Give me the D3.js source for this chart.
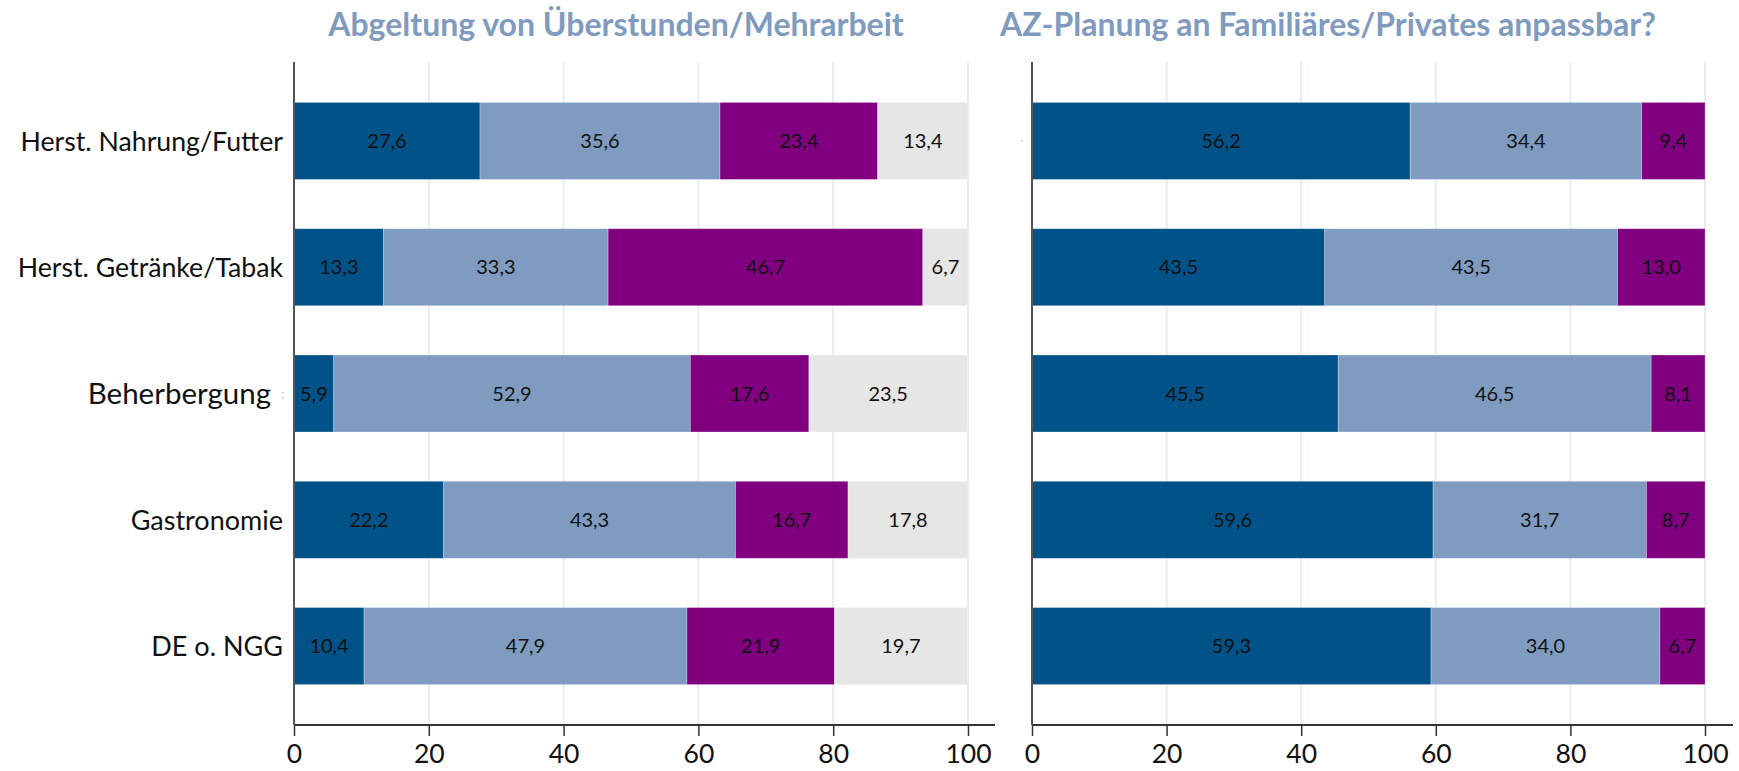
<!DOCTYPE html>
<html>
<head>
<meta charset="utf-8">
<script src="https://cdn.jsdelivr.net/npm/d3@7"></script>
<style>
  html, body { margin: 0; padding: 0; background: #fff; }
  svg { display: block; font-family: Lato, "Open Sans", sans-serif; }
</style>
</head>
<body>
<svg id="chart" width="1739" height="771"></svg>
<script>
// Branches / groups on the vertical axis
const categories = ["Herst. Nahrung/Futter", "Herst. Getränke/Tabak", "Beherbergung", "Gastronomie", "DE o. NGG"];

// Panel 1: Abgeltung von Überstunden/Mehrarbeit (four answer shares, %)
const overtimeA = [27.6, 13.3, 5.9, 22.2, 10.4];
const overtimeB = [35.6, 33.3, 52.9, 43.3, 47.9];
const overtimeC = [23.4, 46.7, 17.6, 16.7, 21.9];
const overtimeD = [13.4, 6.7, 23.5, 17.8, 19.7];

// Panel 2: AZ-Planung an Familiäres/Privates anpassbar? (three answer shares, %)
const planningA = [56.2, 43.5, 45.5, 59.6, 59.3];
const planningB = [34.4, 43.5, 46.5, 31.7, 34.0];
const planningC = [9.4, 13.0, 8.1, 8.7, 6.7];

const tickValues = [0, 20, 40, 60, 80, 100];
const titles = ["Abgeltung von Überstunden/Mehrarbeit", "AZ-Planung an Familiäres/Privates anpassbar?"];

const colors = ["#005288", "#7f9cc0", "#800080", "#e6e6e6"];

// per-label type size and right edge of the category labels
const labelStyle = {
  "Herst. Nahrung/Futter": { size: 26.7, x: 283 },
  "Herst. Getränke/Tabak": { size: 26.7, x: 283 },
  "Beherbergung": { size: 29.5, x: 271 },
  "Gastronomie": { size: 27, x: 283 },
  "DE o. NGG": { size: 27, x: 283 }
};

const svg = d3.select("#chart");

const y = d3.scaleBand()
  .domain(categories)
  .range([62, 725])
  .paddingInner(0.39)
  .paddingOuter(0.32);

const fmt = v => d3.format(".1f")(v).replace(".", ",");

function panel(x0, x1, seriesList, title, titleX, axisEnd) {
  const x = d3.scaleLinear().domain([0, 100]).range([x0, x1]);
  const g = svg.append("g");

  // vertical gridlines
  g.selectAll("line.grid")
    .data(tickValues.filter(t => t > 0))
    .join("line")
    .attr("class", "grid")
    .attr("x1", d => x(d)).attr("x2", d => x(d))
    .attr("y1", 62).attr("y2", 725)
    .attr("stroke", "#e5eef1")
    .attr("stroke-width", 2);

  // stacked segments
  const rows = categories.map((c, i) => {
    let acc = 0;
    return seriesList.map((s, k) => {
      const seg = { cat: c, k, v: s[i], start: acc, end: acc + s[i] };
      acc += s[i];
      return seg;
    });
  }).flat();

  g.selectAll("rect.seg")
    .data(rows)
    .join("rect")
    .attr("class", "seg")
    .attr("x", d => x(d.start))
    .attr("width", d => Math.min(x(d.end), x(100)) - x(d.start))
    .attr("y", d => y(d.cat))
    .attr("height", y.bandwidth())
    .attr("fill", d => colors[d.k])
    .attr("stroke", "#ffffff")
    .attr("stroke-opacity", 0.35)
    .attr("stroke-width", 0.8);

  g.selectAll("text.val")
    .data(rows)
    .join("text")
    .attr("class", "val")
    .attr("x", d => (x(d.start) + Math.min(x(d.end), x(100))) / 2)
    .attr("y", d => y(d.cat) + y.bandwidth() / 2)
    .attr("dy", "0.36em")
    .attr("text-anchor", "middle")
    .attr("font-size", 20)
    .attr("fill", "#111")
    .text(d => fmt(d.v));

  // bottom axis
  const ax = g.append("g")
    .attr("transform", "translate(0,725)")
    .call(d3.axisBottom(x).tickValues(tickValues).tickSize(11).tickPadding(8).tickFormat(d3.format("d")));
  ax.select(".domain").remove();
  ax.selectAll(".tick line").attr("stroke", "#333").attr("stroke-width", 1.5);
  ax.selectAll(".tick text")
    .attr("font-family", "Lato, sans-serif")
    .attr("font-size", 26.5)
    .attr("fill", "#111");
  ax.append("line")
    .attr("x1", x0).attr("x2", axisEnd)
    .attr("y1", 0).attr("y2", 0)
    .attr("stroke", "#333").attr("stroke-width", 2);

  // left axis line
  g.append("line")
    .attr("x1", x0).attr("x2", x0)
    .attr("y1", 62).attr("y2", 725)
    .attr("stroke", "#555").attr("stroke-width", 2);

  // title
  svg.append("text")
    .attr("x", titleX)
    .attr("y", 36)
    .attr("text-anchor", "middle")
    .attr("font-size", 32)
    .attr("font-weight", 700)
    .attr("fill", "#7f9bc0")
    .text(title);

  return x;
}

panel(294, 968, [overtimeA, overtimeB, overtimeC, overtimeD], titles[0], 616, 995);
panel(1032, 1705, [planningA, planningB, planningC], titles[1], 1328, 1733);

// category labels
svg.append("g")
  .selectAll("text")
  .data(categories)
  .join("text")
  .attr("x", d => labelStyle[d].x)
  .attr("y", d => y(d) + y.bandwidth() / 2)
  .attr("dy", "0.36em")
  .attr("text-anchor", "end")
  .attr("font-size", d => labelStyle[d].size)
  .attr("fill", "#111")
  .text(d => d);

// faint stray tick marks
svg.append("text")
  .attr("x", 281).attr("y", y("Beherbergung") + y.bandwidth() / 2)
  .attr("dy", "0.36em")
  .attr("font-size", 14).attr("fill", "#c8c8c8")
  .text(":");
svg.append("circle")
  .attr("cx", 1022).attr("cy", y(categories[0]) + y.bandwidth() / 2)
  .attr("r", 1).attr("fill", "#cccccc");
</script>
</body>
</html>
